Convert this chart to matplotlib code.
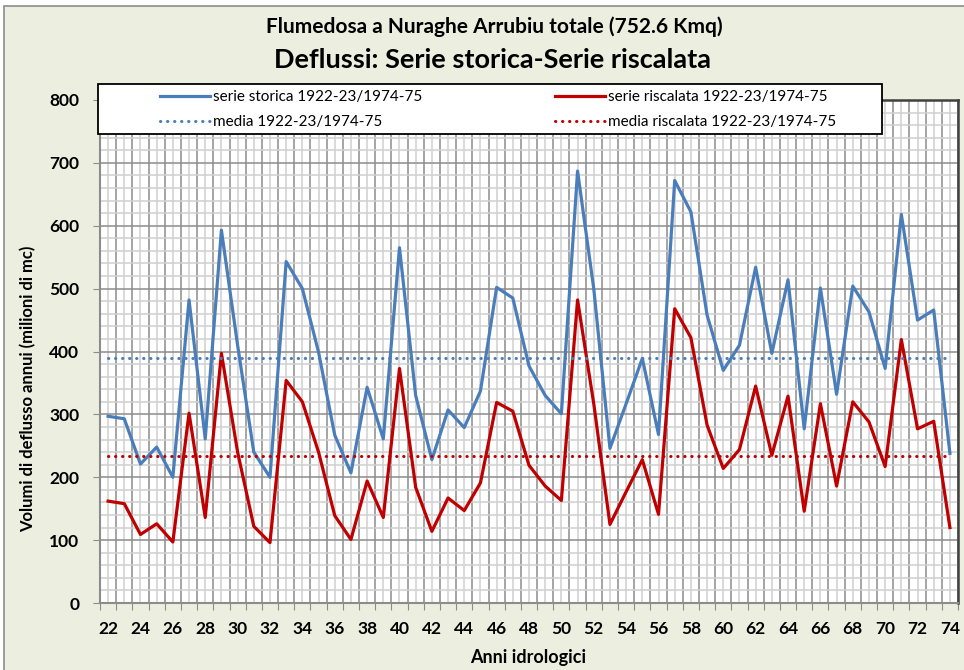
import numpy as np
import matplotlib
matplotlib.use('Agg')
import matplotlib.pyplot as plt
import matplotlib.patches as patches
from matplotlib.lines import Line2D

plt.rcParams['font.family'] = ['Lato', 'DejaVu Sans']

# anni idrologici 1922-23 ... 1974-75
anni = list(range(22, 75))
storica = [297, 293, 221, 248, 200, 482, 261, 593, 410, 240,
           200, 543, 500, 399, 267, 207, 343, 261, 565, 330,
           228, 307, 279, 337, 502, 485, 377, 330, 301, 687,
           500, 246, 317, 389, 268, 672, 622, 458, 370, 410,
           534, 397, 514, 277, 501, 332, 504, 463, 373, 618,
           450, 466, 238]
riscalata = [162, 158, 109, 126, 97, 302, 136, 397, 240, 122,
             96, 354, 320, 240, 139, 101, 194, 136, 373, 184,
             114, 167, 147, 191, 319, 305, 219, 186, 163, 482,
             317, 125, 177, 228, 141, 468, 422, 283, 214, 244,
             345, 235, 329, 146, 317, 186, 320, 288, 217, 419,
             277, 289, 120]
etichette = [str(a) if a % 2 == 0 else '' for a in anni]

media_storica = np.mean(storica)
media_riscalata = np.mean(riscalata)

blu = '#4A7EBB'
rosso = '#C00000'
sfondo = '#ECEFE0'
W, H = 964, 670

fig = plt.figure(figsize=(W / 100, H / 100), dpi=100, facecolor='white')
fig.add_artist(patches.Rectangle((4 / W, -0.05), 1.0, 1 - 6 / H + 0.05,
                                 transform=fig.transFigure, facecolor=sfondo,
                                 edgecolor='#8c8c8c', lw=1.2, zorder=-10))

ax = fig.add_axes([100 / W, 1 - 603 / H, 858 / W, 503 / H])
x = np.arange(len(anni))

ax.plot(x, storica, color=blu, lw=2.3)
ax.plot(x, riscalata, color=rosso, lw=2.3)
punti = (0, (0.1, 2.2))
ax.plot([x[0], x[-1]], [media_storica] * 2, color=blu, lw=2.2,
        linestyle=punti, dash_capstyle='round')
ax.plot([x[0], x[-1]], [media_riscalata] * 2, color=rosso, lw=2.2,
        linestyle=punti, dash_capstyle='round')

ax.set_xlim(-0.5, len(anni) - 0.5)
ax.set_ylim(0, 800)

# griglia principale ai bordi delle categorie, secondaria al centro
ax.set_xticks(np.arange(-0.5, len(anni), 1))
ax.set_xticks(x, minor=True)
ax.set_xticklabels(etichette, minor=True)
ax.set_yticks(range(0, 801, 100))
ax.set_yticks(range(0, 801, 20), minor=True)
ax.set_axisbelow(True)
ax.grid(which='major', color='#8c8c8c', lw=1.1)
ax.grid(which='minor', color='#d0d0d0', lw=1.1)

ax.tick_params(axis='x', which='major', length=5, color='#8c8c8c',
               labelbottom=False)
ax.tick_params(axis='x', which='minor', length=0, pad=13, labelsize=12.5)
ax.tick_params(axis='y', which='major', length=5, color='#8c8c8c',
               pad=10, labelsize=12.5)
ax.tick_params(axis='y', which='minor', length=0)
for t in ax.get_xticklabels(minor=True) + ax.get_yticklabels():
    t.set_fontweight('bold')

for s in ['left', 'bottom']:
    ax.spines[s].set_color('#8c8c8c')
    ax.spines[s].set_linewidth(1.5)
for s in ['top', 'right']:
    ax.spines[s].set_color('#404040')
    ax.spines[s].set_linewidth(1.8)

# riquadro della legenda sopra l'area del grafico
fig.add_artist(patches.Rectangle((98 / W, 1 - 134 / H), 784 / W, 50 / H,
                                 transform=fig.transFigure, facecolor='white',
                                 edgecolor='black', lw=1.3, zorder=3))
maniglie = [Line2D([], [], color=blu, lw=2.3),
            Line2D([], [], color=blu, lw=2.2, linestyle=punti, dash_capstyle='round'),
            Line2D([], [], color=rosso, lw=2.3),
            Line2D([], [], color=rosso, lw=2.2, linestyle=punti, dash_capstyle='round')]
nomi = ['serie storica 1922-23/1974-75', 'media 1922-23/1974-75',
        'serie riscalata 1922-23/1974-75', 'media riscalata 1922-23/1974-75']
leg = fig.legend(maniglie, nomi, ncol=2, frameon=False, loc='upper left',
                 bbox_to_anchor=(160 / W, 1 - 90 / H), fontsize=11,
                 handlelength=3.3, handletextpad=0.15, columnspacing=8.7,
                 labelspacing=0.72, borderpad=0, borderaxespad=0)
leg.set_zorder(5)

fig.text(494 / W, 1 - 27 / H, 'Flumedosa a Nuraghe Arrubiu totale (752.6 Kmq)',
         ha='center', va='center', fontsize=15, fontweight='bold')
fig.text(493 / W, 1 - 60 / H, 'Deflussi: Serie storica-Serie riscalata',
         ha='center', va='center', fontsize=19.5, fontweight='bold')
fig.text(28 / W, 1 - 389 / H, 'Volumi di deflusso annui (milioni di mc)',
         rotation=90, ha='center', va='center', fontsize=12, fontweight='bold')
fig.text(528 / W, 1 - 658 / H, 'Anni idrologici',
         ha='center', va='center', fontsize=13, fontweight='bold')

fig.savefig('out.png', dpi=100, facecolor=fig.get_facecolor())
